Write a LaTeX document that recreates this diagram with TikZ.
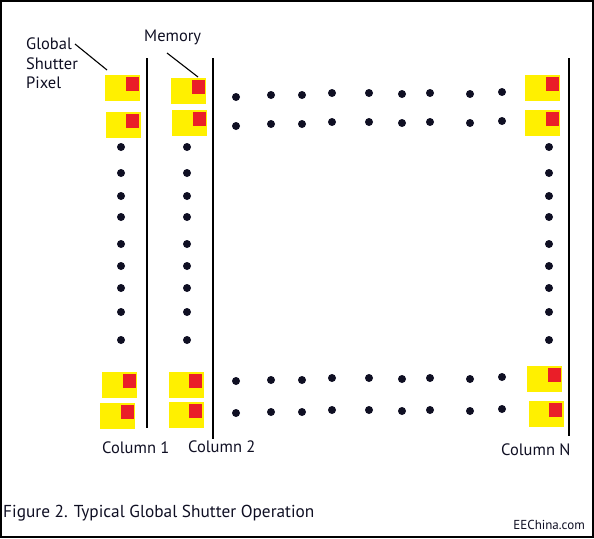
\documentclass[tikz,border=0pt]{standalone}
\usepackage{fontspec}
\setmainfont{PT Sans}
\usepackage{xcolor}
\usetikzlibrary{positioning, calc}
\definecolor{cYellow}{RGB}{255,240,0}
\definecolor{cRed}{RGB}{234,30,40}
\definecolor{cInk}{RGB}{15,15,35}
\tikzset{
	pixel/.style  ={rectangle, draw=none, fill=cYellow, minimum width=35pt, minimum height=26pt, inner sep=0pt},
	mem/.style    ={rectangle, draw=none, fill=cRed, minimum width=13pt, minimum height=14pt, inner sep=0pt, anchor=north east},
	colline/.style={line width=1.3pt, black},
	leader/.style ={line width=1.1pt, black},
	lbl/.style    ={font=\fontsize{16.5}{19.5}\selectfont, text=cInk, inner sep=0pt},
}

\begin{document}
\begin{tikzpicture}[x=1pt, y=-1pt]
	\useasboundingbox (0,0) rectangle (594,538);
	\draw[line width=1.5pt] (1,1) rectangle (593,537);
	% global shutter pixels, each with its memory
	\foreach \n/\x/\y in {c1a/122.5/88, c1b/123/124.5, c1c/119.5/385, c1d/117.5/416,
		c2a/188.5/90.5, c2b/189.5/123, c2c/186/384.5, c2d/186/415,
		cNa/542.5/88, cNb/542.5/123, cNc/544.5/379, cNd/546/414}{
		\node[pixel] (\n) at (\x,\y) {};
		\node[mem] (m\n) at ([xshift=-1.5pt, yshift=-2pt]\n.north east) {};
	}
	% column lines
	\draw[colline] (147,58) -- (147,428);
	\draw[colline] (213,58) -- (213,439);
	\draw[colline] (569,58) -- (569,436);
	% dots down the columns
	\foreach \x in {121, 187, 549}
		\foreach \y in {147, 173, 196, 217, 244, 266, 288, 312, 340}
			\fill[cInk] (\x,\y) circle (4pt);
	% dots along the rows
	\foreach \x/\ya/\yb in {236/97/381, 271/95/380, 302/95/380, 332/93/378, 369/93/378,
		402/94/379, 430/93/378, 470/94/379, 502/92/377}{
		\fill[cInk] (\x,\ya) circle (4pt);
		\fill[cInk] (\x,\ya+29) circle (4pt);
		\fill[cInk] (\x,\yb) circle (4pt);
		\fill[cInk] (\x,\yb+32) circle (4pt);
	}
	% labels
	\node[lbl, align=left, anchor=north west] (gsp) at (26,38) {Global\\Shutter\\Pixel};
	\node[lbl, anchor=base west] (memlbl) at (144,41) {Memory};
	\node[lbl, anchor=base west] (col1) at (102,453) {Column 1};
	\node[lbl, anchor=base west] (col2) at (188,452) {Column 2};
	\node[lbl, anchor=base west] (colN) at (501,455) {Column N};
	\node[lbl, font=\fontsize{17.3}{20}\selectfont, anchor=base west] (caption) at (3,517) {Figure 2. Typical Global Shutter Operation};
	\node[lbl, font=\fontsize{13}{15}\selectfont, anchor=base east] (site) at (585,529) {EEChina.com};
	% leader lines
	\coordinate (gspTail) at (75,44);
	\coordinate (gspTip) at (107,70);
	\coordinate (memTail) at (167,53);
	\coordinate (memTip) at (198,77);
	\draw[leader] (gspTail) -- (gspTip);
	\draw[leader] (memTail) -- (memTip);
\end{tikzpicture}
\end{document}
